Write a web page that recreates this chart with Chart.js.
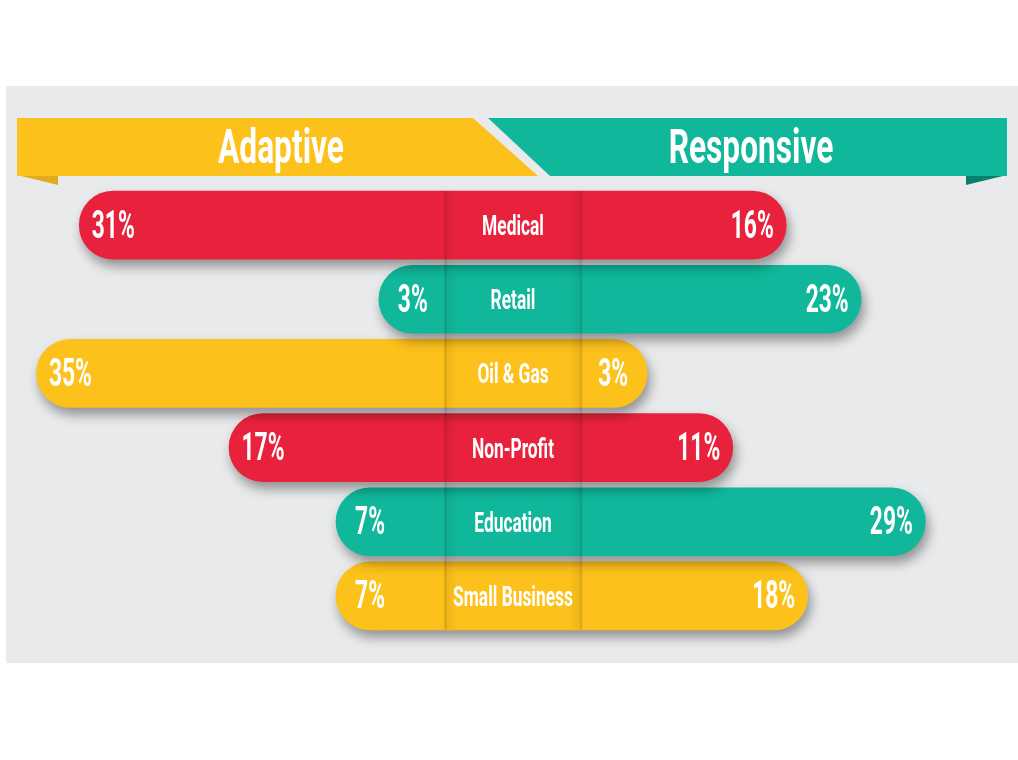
<!DOCTYPE html>
<html>
<head>
<meta charset="utf-8">
<script src="https://cdn.jsdelivr.net/npm/chart.js@4.4.1/dist/chart.umd.min.js"></script>
<style>
  body { margin: 0; background: #ffffff; }
  canvas { display: block; }
</style>
</head>
<body>
<canvas id="industryChart" width="1018" height="760"></canvas>
<script>
// =========================
// DATA
// =========================
const industries = ['Medical', 'Retail', 'Oil & Gas', 'Non-Profit', 'Education', 'Small Business'];
const adaptive = [31, 3, 35, 17, 7, 7];      // left side (%)
const responsive = [16, 23, 3, 11, 29, 18];  // right side (%)
const sideTitles = ['Adaptive', 'Responsive'];

const RED = '#E8223C';
const TEAL = '#10B79A';
const YELLOW = '#FDC11B';
const barColors = [RED, TEAL, YELLOW, RED, TEAL, YELLOW];

// centre label strip and rounded end, in % units
const BAND = 6.36;
const CAP = 3.18;

// each row is one pill: adaptive to the left, responsive to the right
const pills = industries.map((name, i) => [-(BAND + CAP + adaptive[i]), BAND + CAP + responsive[i]]);

// =========================
// HELPERS
// =========================
function narrowText(ctx, text, x, y, size, sx, align) {
  ctx.save();
  ctx.translate(x, y);
  ctx.scale(sx, 1);
  ctx.font = 'bold ' + size + 'px Roboto, "DejaVu Sans", sans-serif';
  ctx.textAlign = align || 'center';
  ctx.textBaseline = 'alphabetic';
  ctx.fillStyle = '#ffffff';
  ctx.fillText(text, 0, size * 0.355);
  ctx.restore();
}

function poly(ctx, pts, color) {
  ctx.beginPath();
  ctx.moveTo(pts[0][0], pts[0][1]);
  pts.slice(1).forEach(p => ctx.lineTo(p[0], p[1]));
  ctx.closePath();
  ctx.fillStyle = color;
  ctx.fill();
}

// =========================
// PLUGINS
// =========================
const backdrop = {
  id: 'backdrop',
  beforeDraw(chart) {
    const ctx = chart.ctx;
    ctx.save();
    // grey panel
    ctx.fillStyle = '#E9EAEC';
    ctx.fillRect(6, 86, 1012, 577);

    // ribbon tails
    poly(ctx, [[17, 175], [58, 175], [58, 185]], '#E3AA1F');
    poly(ctx, [[966, 175], [1007, 175], [966, 185]], '#0A7F6B');

    // ribbons
    poly(ctx, [[17, 118], [473, 118], [538, 176], [17, 176]], YELLOW);
    poly(ctx, [[488, 118], [1007, 118], [1007, 176], [550, 176]], TEAL);

    narrowText(ctx, sideTitles[0], 281, 146, 48, 0.66);
    narrowText(ctx, sideTitles[1], 751, 146, 48, 0.66);
    ctx.restore();
  }
};

const pillDraw = {
  id: 'pillDraw',
  beforeDatasetDraw(chart, args) {
    const ctx = chart.ctx;
    const bars = args.meta.data;
    ctx.save();
    ctx.shadowColor = 'rgba(0,0,0,0.38)';
    ctx.shadowBlur = 12;
    ctx.shadowOffsetX = 3;
    ctx.shadowOffsetY = 7;
    // bottom row first so each shadow falls on the row below it
    for (let i = bars.length - 1; i >= 0; i--) {
      bars[i].draw(ctx, chart.chartArea);
    }
    ctx.restore();
    return false;
  },
  afterDatasetsDraw(chart) {
    const ctx = chart.ctx;
    const x = chart.scales.x;
    const bars = chart.getDatasetMeta(0).data;
    const top = bars[0].y - bars[0].height / 2;
    const bottom = bars[bars.length - 1].y + bars[bars.length - 1].height / 2;
    const xl = x.getPixelForValue(-BAND);
    const xr = x.getPixelForValue(BAND);

    ctx.save();
    // soft shading along the edges of the centre strip
    [[xl, 1], [xr, -1]].forEach(([px, dir]) => {
      const g = ctx.createLinearGradient(px, 0, px + dir * 12, 0);
      g.addColorStop(0, 'rgba(0,0,0,0.07)');
      g.addColorStop(1, 'rgba(0,0,0,0)');
      ctx.fillStyle = g;
      ctx.fillRect(Math.min(px, px + dir * 12), top, 12, bottom - top);
      ctx.fillStyle = 'rgba(0,0,0,0.09)';
      ctx.fillRect(px - 1, top, 2.5, bottom - top);
    });

    // labels
    bars.forEach((bar, i) => {
      const left = Math.min(bar.x, bar.base);
      const right = Math.max(bar.x, bar.base);
      const r = bar.height / 2;
      narrowText(ctx, adaptive[i] + '%', left + r, bar.y - 1, 38, 0.6);
      narrowText(ctx, responsive[i] + '%', right - r, bar.y - 1, 38, 0.6);
      narrowText(ctx, industries[i], x.getPixelForValue(0), bar.y, 28, 0.62);
    });
    ctx.restore();
  }
};

// =========================
// CHART
// =========================
const ctx = document.getElementById('industryChart').getContext('2d');

new Chart(ctx, {
  type: 'bar',
  data: {
    labels: industries,
    datasets: [{
      label: 'Adaptive / Responsive',
      data: pills,
      backgroundColor: barColors,
      borderWidth: 0,
      borderRadius: 34,
      borderSkipped: false,
      barThickness: 68
    }]
  },
  options: {
    indexAxis: 'y',
    responsive: false,
    animation: false,
    layout: { padding: { left: 13, right: 5, top: 188, bottom: 127 } },
    plugins: {
      legend: { display: false },
      tooltip: { enabled: false }
    },
    scales: {
      x: { min: -46.73, max: 46.73, display: false },
      y: { display: false }
    }
  },
  plugins: [backdrop, pillDraw]
});
</script>
</body>
</html>
